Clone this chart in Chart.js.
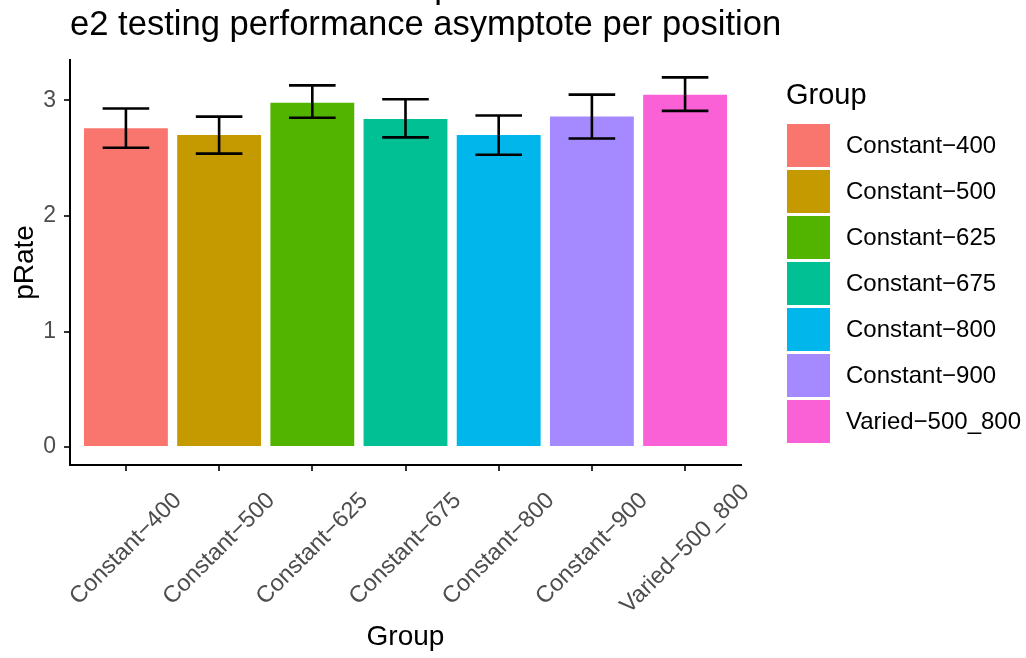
<!DOCTYPE html>
<html>
<head>
<meta charset="utf-8">
<script src="https://cdn.jsdelivr.net/npm/chart.js@4.4.1/dist/chart.umd.min.js"></script>
<style>
  html, body { margin: 0; padding: 0; background: #fff; }
  canvas { display: block; }
</style>
</head>
<body>
<canvas id="chart" width="1026" height="658"></canvas>
<script>
// Data
const groups = ['Constant−400', 'Constant−500', 'Constant−625', 'Constant−675', 'Constant−800', 'Constant−900', 'Varied−500_800'];
const pRate = [2.76, 2.70, 2.98, 2.84, 2.70, 2.86, 3.05];
const errLow = [2.59, 2.54, 2.85, 2.68, 2.53, 2.67, 2.91];
const errHigh = [2.93, 2.86, 3.13, 3.01, 2.87, 3.05, 3.20];
const yTicks = [0, 1, 2, 3];
const colors = ['#F8766D', '#C49A00', '#53B400', '#00C094', '#00B6EB', '#A58AFF', '#FB61D7'];

const FONT = '"Liberation Sans", Arial, sans-serif';
Chart.defaults.font.family = FONT;

// Error bars, rotated x labels, title and legend
const extras = {
  id: 'extras',
  afterDatasetsDraw(chart) {
    const { ctx, scales: { x, y } } = chart;
    ctx.save();
    ctx.strokeStyle = '#000';
    ctx.lineWidth = 2.6;
    groups.forEach((g, i) => {
      const cx = x.getPixelForValue(i);
      const half = x.getPixelForValue(i + 0.25) - cx;
      const top = y.getPixelForValue(errHigh[i]);
      const bot = y.getPixelForValue(errLow[i]);
      ctx.beginPath();
      ctx.moveTo(cx, top); ctx.lineTo(cx, bot);
      ctx.moveTo(cx - half, top); ctx.lineTo(cx + half, top);
      ctx.moveTo(cx - half, bot); ctx.lineTo(cx + half, bot);
      ctx.stroke();
    });
    ctx.restore();
  },
  afterDraw(chart) {
    const { ctx, scales: { x }, chartArea } = chart;
    ctx.save();

    // x tick labels, 45 degrees, centred on tick
    ctx.fillStyle = '#4D4D4D';
    ctx.font = '23.5px ' + FONT;
    ctx.textAlign = 'center';
    ctx.textBaseline = 'middle';
    groups.forEach((g, i) => {
      ctx.save();
      ctx.translate(x.getPixelForValue(i), 549);
      ctx.rotate(-Math.PI / 4);
      ctx.fillText(g, 0, 0);
      ctx.restore();
    });

    // titles
    ctx.fillStyle = '#000';
    ctx.textBaseline = 'alphabetic';
    ctx.font = '34.6px ' + FONT;
    ctx.textAlign = 'center';
    ctx.fillText('Group', (chartArea.left + chartArea.right) / 2, -2);
    ctx.textAlign = 'left';
    ctx.fillText('e2 testing performance asymptote per position', chartArea.left, 35);

    // legend
    ctx.font = '29px ' + FONT;
    ctx.fillText('Group', 786, 104);
    ctx.font = '24px ' + FONT;
    ctx.textBaseline = 'middle';
    groups.forEach((g, i) => {
      const top = 124 + i * 46;
      ctx.fillStyle = colors[i];
      ctx.fillRect(787, top, 43, 43);
      ctx.fillStyle = '#000';
      ctx.fillText(g, 846, top + 22);
    });
    ctx.restore();
  }
};

new Chart(document.getElementById('chart'), {
  type: 'bar',
  data: {
    datasets: [{
      data: pRate.map((v, i) => ({ x: i, y: v })),
      backgroundColor: colors,
      borderWidth: 0,
      barPercentage: 0.9,
      categoryPercentage: 1
    }]
  },
  options: {
    responsive: false,
    animation: false,
    layout: { padding: { top: 60, right: 285, bottom: 0, left: 0 } },
    plugins: {
      legend: { display: false },
      title: { display: false },
      tooltip: { enabled: false }
    },
    scales: {
      x: {
        type: 'linear',
        offset: false,
        min: -0.6,
        max: 6.6,
        afterBuildTicks: (scale) => { scale.ticks = groups.map((g, i) => ({ value: i })); },
        afterFit: (scale) => { scale.height = 193; },
        ticks: { display: false },
        grid: { offset: false, drawOnChartArea: false, drawTicks: true, tickLength: 6, color: '#333', lineWidth: 2 },
        border: { display: true, color: '#000', width: 2 },
        title: { display: true, text: 'Group', color: '#000', font: { size: 28 }, padding: { top: 0, bottom: 4 } }
      },
      y: {
        min: -0.155,
        max: 3.35,
        afterBuildTicks: (scale) => { scale.ticks = yTicks.map(v => ({ value: v })); },
        afterFit: (scale) => { scale.width = 70; },
        ticks: { color: '#4D4D4D', font: { size: 23 }, padding: 8 },
        grid: { drawOnChartArea: false, drawTicks: true, tickLength: 6, color: '#333', lineWidth: 2 },
        border: { display: true, color: '#000', width: 2 },
        title: { display: true, text: 'pRate', color: '#000', font: { size: 28 }, padding: { top: 8, bottom: 0 } }
      }
    }
  },
  plugins: [extras]
});
</script>
</body>
</html>
